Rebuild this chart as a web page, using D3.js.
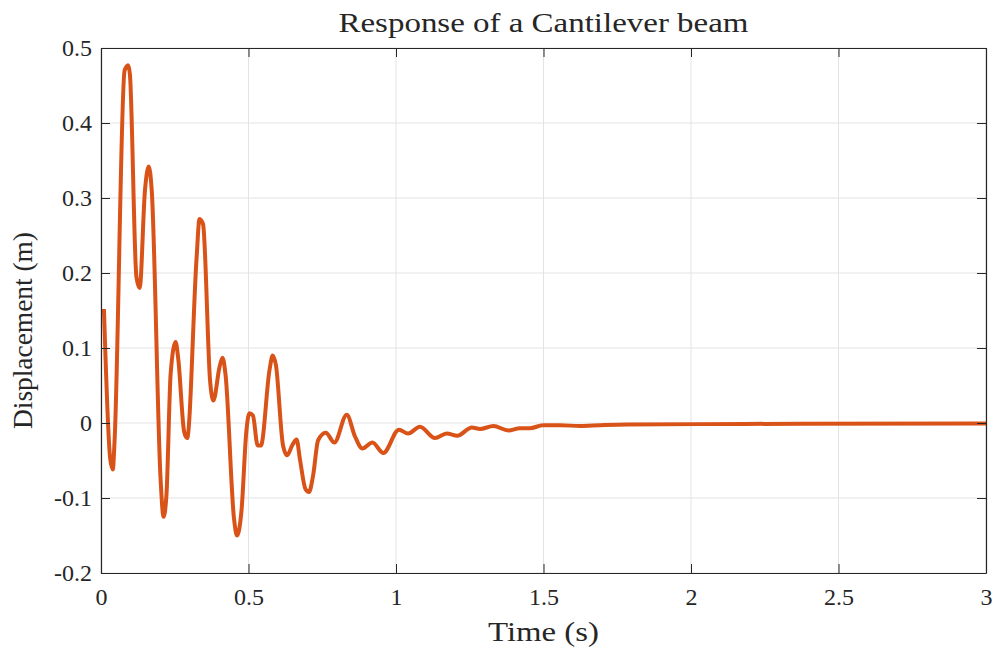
<!DOCTYPE html>
<html>
<head>
<meta charset="utf-8">
<script src="https://cdn.jsdelivr.net/npm/d3@7"></script>
<style>
  html, body { margin: 0; padding: 0; background: #fff; }
  svg { display: block; }
  text { font-family: "Liberation Serif", "Times New Roman", serif; fill: #262626; }
</style>
</head>
<body>
<svg id="chart" width="996" height="650"></svg>
<script>
const titleText = "Response of a Cantilever beam";
const xLabelText = "Time (s)";
const yLabelText = "Displacement (m)";

const xTicks = [0, 0.5, 1, 1.5, 2, 2.5, 3];
const yTicks = [-0.2, -0.1, 0, 0.1, 0.2, 0.3, 0.4, 0.5];
const xTickLabels = ["0", "0.5", "1", "1.5", "2", "2.5", "3"];
const yTickLabels = ["-0.2", "-0.1", "0", "0.1", "0.2", "0.3", "0.4", "0.5"];

const time = [0.010, 0.031, 0.040, 0.046, 0.080, 0.092, 0.098, 0.120, 0.131, 0.149, 0.162, 0.172,
  0.202, 0.212, 0.222, 0.236, 0.253, 0.262, 0.282, 0.292, 0.324, 0.334, 0.346, 0.370, 0.381,
  0.402, 0.412, 0.422, 0.451, 0.461, 0.476, 0.493, 0.503, 0.515, 0.531, 0.542, 0.571, 0.582,
  0.593, 0.617, 0.631, 0.648, 0.663, 0.675, 0.693, 0.705, 0.719, 0.736, 0.762, 0.791, 0.833,
  0.861, 0.886, 0.920, 0.957, 1.010, 1.041, 1.081, 1.132, 1.172, 1.208, 1.257, 1.285, 1.330,
  1.381, 1.420, 1.454, 1.498, 1.556, 1.624, 1.692, 1.783, 2.030, 2.370, 3.000];

const displacement = [0.152, -0.047, -0.062, -0.024, 0.470, 0.477, 0.465, 0.195, 0.180, 0.310, 0.342, 0.310,
  -0.075, -0.125, -0.095, 0.065, 0.108, 0.085, -0.012, -0.020, 0.220, 0.272, 0.265, 0.055, 0.030,
  0.075, 0.087, 0.065, -0.128, -0.150, -0.118, -0.010, 0.013, 0.010, -0.030, -0.030, 0.070, 0.090,
  0.077, -0.030, -0.043, -0.030, -0.022, -0.050, -0.088, -0.092, -0.070, -0.023, -0.013, -0.026, 0.011,
  -0.018, -0.034, -0.026, -0.040, -0.009, -0.014, -0.005, -0.020, -0.014, -0.017, -0.006, -0.008, -0.004,
  -0.010, -0.007, -0.007, -0.003, -0.003, -0.004, -0.003, -0.002, -0.0015, -0.001, -0.0005];

const data = time.map((t, i) => ({ t, y: displacement[i] }));

const svg = d3.select("#chart");
const L = 101, R = 986, T = 48, B = 573;

const x = d3.scaleLinear().domain([0, 3]).range([L, R]);
const y = d3.scaleLinear().domain([-0.2, 0.5]).range([B, T]);

const axisColor = "#262626";
const gridColor = "#e3e3e3";
const tickLen = 9;

// grid
const grid = svg.append("g");
grid.selectAll("line.gx").data(xTicks).join("line")
  .attr("x1", d => x(d)).attr("x2", d => x(d))
  .attr("y1", T).attr("y2", B)
  .attr("stroke", gridColor).attr("stroke-width", 1);
grid.selectAll("line.gy").data(yTicks).join("line")
  .attr("y1", d => y(d)).attr("y2", d => y(d))
  .attr("x1", L).attr("x2", R)
  .attr("stroke", gridColor).attr("stroke-width", 1);

// data line
const line = d3.line().x(d => x(d.t)).y(d => y(d.y)).curve(d3.curveMonotoneX);
svg.append("path").datum(data)
  .attr("d", line)
  .attr("fill", "none")
  .attr("stroke", "#D95319")
  .attr("stroke-width", 4)
  .attr("stroke-linejoin", "round")
  .attr("stroke-linecap", "butt");

// axes using d3 axis generators (inward ticks)
function styleAxis(g) {
  g.select(".domain").attr("stroke", axisColor).attr("stroke-width", 1.2);
  g.selectAll(".tick line").attr("stroke", axisColor).attr("stroke-width", 1);
  g.selectAll(".tick text").attr("fill", axisColor)
    .style("font-family", '"Liberation Serif", serif').style("font-size", "24px");
}

const xb = svg.append("g").attr("transform", `translate(0,${B})`)
  .call(d3.axisBottom(x).tickValues(xTicks).tickFormat((d, i) => xTickLabels[i])
    .tickSizeInner(-tickLen).tickSizeOuter(0).tickPadding(tickLen + 9));
styleAxis(xb);
xb.selectAll(".tick text").attr("dy", "0.71em").attr("y", 15);

const xt = svg.append("g").attr("transform", `translate(0,${T})`)
  .call(d3.axisTop(x).tickValues(xTicks).tickFormat("")
    .tickSizeInner(-tickLen).tickSizeOuter(0));
styleAxis(xt);

const yl = svg.append("g").attr("transform", `translate(${L},0)`)
  .call(d3.axisLeft(y).tickValues(yTicks).tickFormat((d, i) => yTickLabels[i])
    .tickSizeInner(-tickLen).tickSizeOuter(0));
styleAxis(yl);
yl.selectAll(".tick text").attr("x", -9);

const yr = svg.append("g").attr("transform", `translate(${R},0)`)
  .call(d3.axisRight(y).tickValues(yTicks).tickFormat("")
    .tickSizeInner(-tickLen).tickSizeOuter(0));
styleAxis(yr);

// title
svg.append("text")
  .attr("x", (L + R) / 2).attr("y", 32)
  .attr("text-anchor", "middle")
  .style("font-size", "27px")
  .attr("textLength", 410).attr("lengthAdjust", "spacingAndGlyphs")
  .text(titleText);

// x label
svg.append("text")
  .attr("x", (L + R) / 2).attr("y", 641)
  .attr("text-anchor", "middle")
  .style("font-size", "27px")
  .attr("textLength", 111).attr("lengthAdjust", "spacingAndGlyphs")
  .text(xLabelText);

// y label
svg.append("text")
  .attr("transform", `translate(32,${(T + B) / 2 + 20}) rotate(-90)`)
  .attr("text-anchor", "middle")
  .style("font-size", "27px")
  .attr("textLength", 197).attr("lengthAdjust", "spacingAndGlyphs")
  .text(yLabelText);
</script>
</body>
</html>
